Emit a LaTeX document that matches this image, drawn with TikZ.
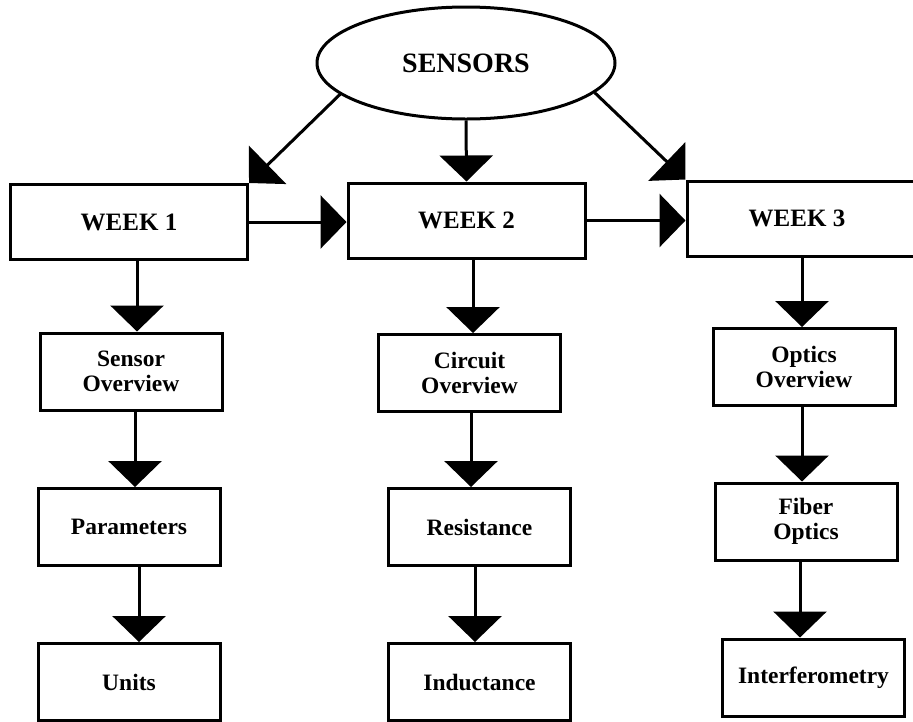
\documentclass[tikz,border=0pt]{standalone}
\usepackage{fontspec}
\setmainfont{Liberation Serif}
\usetikzlibrary{shapes.geometric,arrows.meta}

\begin{document}
\begin{tikzpicture}[
        x=1pt, y=-1pt, line width=3pt,
        box/.style={draw, rectangle, inner sep=0pt, align=center,
                    font=\bfseries\fontsize{23.5}{25}\selectfont},
        weekbox/.style={box, minimum width=237pt, minimum height=75pt,
                    font=\bfseries\fontsize{25}{27}\selectfont},
        topicbox/.style={box, minimum width=182pt, minimum height=77pt},
        tri/.style={-{Triangle[length=26pt, width=53pt]}},
        ]
    \path[use as bounding box, clip] (0,0) rectangle (913,721);

    \node[draw, ellipse, minimum width=298pt, minimum height=112pt, inner sep=0pt,
          font=\bfseries\fontsize{28}{30}\selectfont] (sensors) at (466,63) {SENSORS};

    \node[weekbox] (week1) at (129,222)     {WEEK 1};
    \node[weekbox] (week2) at (466.5,220.5) {WEEK 2};
    \node[weekbox] (week3) at (805.5,218.5) {WEEK 3\hspace*{17pt}};

    \node[topicbox] (sov) at (131,371.5)   {Sensor\\Overview};
    \node[topicbox] (par) at (129,527)     {Parameters};
    \node[topicbox] (uni) at (129,682)     {Units};

    \node[topicbox] (cov) at (469.5,373)   {Circuit\\Overview};
    \node[topicbox] (res) at (479.5,527)   {Resistance};
    \node[topicbox] (ind) at (479.5,682)   {Inductance};

    \node[topicbox] (oov) at (804,367)     {Optics\\Overview};
    \node[topicbox] (fib) at (806,521.5)   {Fiber\\Optics};
    \node[topicbox] (int) at (813.5,677.5) {Interferometry};

    \draw[tri] (sensors.194) -- (week1.north east);
    \draw[tri] (sensors.south) -- (week2.north);
    \draw[tri] (sensors.-13) -- (week3.north west);

    \draw[tri] (week1.east) -- (week1.east -| week2.west);
    \draw[tri] (week2.east) -- (week2.east -| week3.west);

    \draw[tri] ([xshift=8pt]week1.south) -- ([xshift=6pt]sov.north);
    \draw[tri] ([xshift=4pt]sov.south)   -- ([xshift=6pt]par.north);
    \draw[tri] ([xshift=10pt]par.south)  -- ([xshift=10pt]uni.north);

    \draw[tri] ([xshift=6.5pt]week2.south) -- ([xshift=3.5pt]cov.north);
    \draw[tri] ([xshift=1.5pt]cov.south)   -- ([xshift=-8.5pt]res.north);
    \draw[tri] ([xshift=-4.5pt]res.south)  -- ([xshift=-4.5pt]ind.north);

    \draw[tri] ([xshift=-3.5pt]week3.south) -- ([xshift=-2pt]oov.north);
    \draw[tri] ([xshift=-2pt]oov.south)     -- ([xshift=-4pt]fib.north);
    \draw[tri] ([xshift=-6pt]fib.south)     -- ([xshift=-13.5pt]int.north);
\end{tikzpicture}
\end{document}
